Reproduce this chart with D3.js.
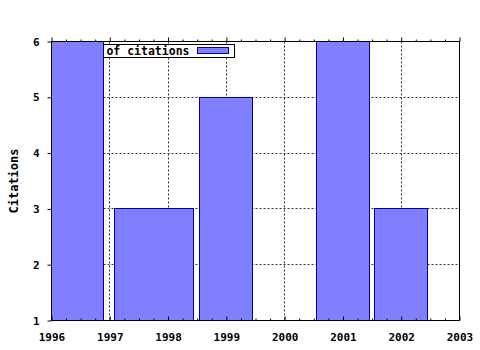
<!DOCTYPE html>
<html>
<head>
<meta charset="utf-8">
<script src="https://cdn.jsdelivr.net/npm/d3@7"></script>
<style>
  body { margin: 0; background: #fff; }
  svg { display: block; }
  .tick text { font-family: "DejaVu Sans Mono", monospace; font-weight: bold; fill: #000; }
</style>
</head>
<body>
<div id="chart"></div>
<script>
// bins (year units) and citation counts
var binStart = [1995.55, 1997.08, 1998.54, 2000.54, 2001.54];
var binEnd = [1996.9, 1998.44, 1999.45, 2001.46, 2002.45];
var citations = [6, 3, 5, 6, 3];

var yearTicks = [1996, 1997, 1998, 1999, 2000, 2001, 2002, 2003];
var citationTicks = [1, 2, 3, 4, 5, 6];
var legendLabel = "of citations";
var yLabel = "Citations";

var data = binStart.map(function(s, i) {
  return { start: s, end: binEnd[i], value: citations[i] };
});

var svgWidth = 480;
var svgHeight = 350;

var svg = d3.select("#chart")
  .append("svg")
  .attr("width", svgWidth)
  .attr("height", svgHeight);

// plot box (note: "top" is a reserved window global, so use plotTop)
var plotLeft = 51.5, plotRight = 459.5, plotTop = 41.5, plotBottom = 320.5;

var x = d3.scaleLinear().domain([1996, 2003]).range([plotLeft, plotRight]);
var y = d3.scaleLinear().domain([1, 6]).range([plotBottom, plotTop]);

// quarter-year minor ticks
var minorTicks = d3.range(1996, 2003.001, 0.25).filter(function(v) {
  return v % 1 !== 0;
});

svg.append("defs").append("clipPath")
  .attr("id", "plotclip")
  .append("rect")
  .attr("x", plotLeft)
  .attr("y", plotTop)
  .attr("width", plotRight - plotLeft)
  .attr("height", plotBottom - plotTop);

// grid
var grid = svg.append("g")
  .attr("stroke", "#333")
  .attr("stroke-width", 1)
  .attr("stroke-dasharray", "2,2");

grid.selectAll(".vgrid")
  .data(yearTicks.slice(1, -1))
  .enter()
  .append("line")
  .attr("x1", d => Math.round(x(d) - 0.5) + 0.5)
  .attr("x2", d => Math.round(x(d) - 0.5) + 0.5)
  .attr("y1", plotTop)
  .attr("y2", plotBottom);

grid.selectAll(".hgrid")
  .data(citationTicks.slice(1, -1))
  .enter()
  .append("line")
  .attr("x1", plotLeft)
  .attr("x2", plotRight)
  .attr("y1", d => Math.round(y(d) - 0.5) + 0.5)
  .attr("y2", d => Math.round(y(d) - 0.5) + 0.5);

// legend (partly hidden behind the first bar)
var legend = svg.append("g");
legend.append("rect")
  .attr("x", 80.5)
  .attr("y", 44.5)
  .attr("width", 154)
  .attr("height", 13)
  .attr("fill", "#fff")
  .attr("stroke", "#000");
legend.append("text")
  .attr("x", 189.5)
  .attr("y", 55)
  .attr("text-anchor", "end")
  .style("font-family", "DejaVu Sans Mono, monospace")
  .style("font-weight", "bold")
  .style("font-size", "11.5px")
  .text(legendLabel);
legend.append("rect")
  .attr("x", 197.5)
  .attr("y", 47.5)
  .attr("width", 31)
  .attr("height", 6)
  .attr("fill", "#8080ff")
  .attr("stroke", "#0000a0");

// bars
svg.append("g")
  .attr("clip-path", "url(#plotclip)")
  .selectAll("rect")
  .data(data)
  .enter()
  .append("rect")
  .attr("x", d => Math.floor(x(d.start)) + 0.5)
  .attr("y", d => Math.floor(y(d.value)) + 0.5)
  .attr("width", d => Math.floor(x(d.end)) - Math.floor(x(d.start)))
  .attr("height", d => Math.floor(y(1)) - Math.floor(y(d.value)))
  .attr("fill", "#8080ff")
  .attr("stroke", "#0000a0")
  .attr("stroke-width", 1);

// axes
var bottomAxis = svg.append("g")
  .attr("transform", `translate(0, ${plotBottom})`)
  .call(d3.axisBottom(x).tickValues(yearTicks).tickSize(-4).tickPadding(13).tickFormat(d3.format("d")));
bottomAxis.selectAll("text").style("font-size", "11px");

svg.append("g")
  .attr("transform", `translate(0, ${plotBottom})`)
  .call(d3.axisBottom(x).tickValues(minorTicks).tickSize(-2).tickFormat(""));

svg.append("g")
  .attr("transform", `translate(0, ${plotTop})`)
  .call(d3.axisTop(x).tickValues(yearTicks).tickSize(4).tickFormat(""));

svg.append("g")
  .attr("transform", `translate(0, ${plotTop})`)
  .call(d3.axisTop(x).tickValues(minorTicks).tickSize(2).tickFormat(""));

var leftAxis = svg.append("g")
  .attr("transform", `translate(${plotLeft}, 0)`)
  .call(d3.axisLeft(y).tickValues(citationTicks).tickSize(4).tickPadding(8).tickFormat(d3.format("d")));
leftAxis.selectAll("text").style("font-size", "11px");

svg.selectAll(".domain").remove();
svg.selectAll(".tick line").attr("stroke", "#000");

// border
svg.append("rect")
  .attr("x", plotLeft)
  .attr("y", plotTop)
  .attr("width", plotRight - plotLeft)
  .attr("height", plotBottom - plotTop)
  .attr("fill", "none")
  .attr("stroke", "#000");

// y label
svg.append("text")
  .attr("transform", `translate(18, ${(plotTop + plotBottom) / 2}) rotate(-90)`)
  .attr("text-anchor", "middle")
  .style("font-family", "DejaVu Sans Mono, monospace")
  .style("font-weight", "bold")
  .style("font-size", "12px")
  .text(yLabel);
</script>
</body>
</html>
